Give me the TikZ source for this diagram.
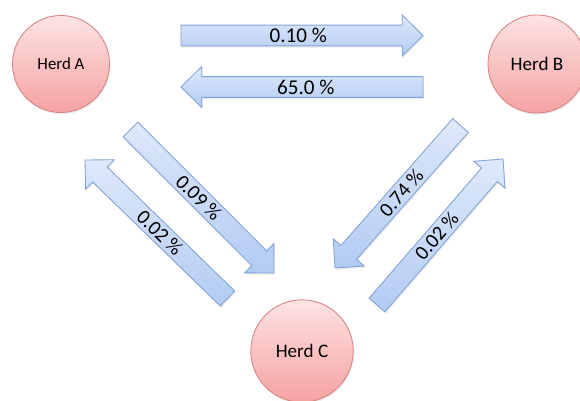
\documentclass[tikz,border=0pt]{standalone}
\usepackage{fontspec}
\setmainfont{Carlito}
\usetikzlibrary{calc,shadows}
\definecolor{arrowfillT}{HTML}{DEE9FB}
\definecolor{arrowfillB}{HTML}{B3CBF2}
\definecolor{arrowline}{HTML}{7FA2D8}
\definecolor{herdT}{HTML}{FDE3E3}
\definecolor{herdB}{HTML}{F6A2A2}
\definecolor{herdline}{HTML}{D98282}
\tikzset{
  herd/.style={circle, draw=herdline, line width=0.6pt, top color=herdT, bottom color=herdB,
    inner sep=0pt, drop shadow={opacity=0.15, shadow xshift=0.6pt, shadow yshift=-1.2pt}},
  blockarrow/.style={draw=arrowline, line width=0.6pt, top color=arrowfillT, bottom color=arrowfillB,
    line join=miter, drop shadow={opacity=0.15, shadow xshift=0.6pt, shadow yshift=-1.2pt}},
  flowlabel/.style={inner sep=0pt, text=black},
}
\newcommand{\flowarrow}[4]{%
  \coordinate (#1-base) at ($(#2)!0.52cm!(#1)$);
  \path[blockarrow] ($(#1)!0.26cm!90:(#2)$) -- ($(#1-base)!0.26cm!90:(#2)$)
    -- ($(#1-base)!0.515cm!90:(#2)$) -- (#2) -- ($(#1-base)!0.515cm!-90:(#2)$)
    -- ($(#1-base)!0.26cm!-90:(#2)$) -- ($(#1)!0.26cm!-90:(#2)$) -- cycle;
  \path (#1) -- (#1-base) node[pos=0.53, sloped, flowlabel, font=\fontsize{#4}{18}\selectfont] {#3};
}
\begin{document}
\begin{tikzpicture}[x=0.025cm, y=-0.025cm]
\useasboundingbox (0,0) rectangle (580,401);
\clip (0,0) rectangle (580,401);
\fill[white] (0,0) rectangle (580,401);
% herds
\node[herd, minimum size=2.425cm, font=\fontsize{12}{14}\selectfont] (A) at (61,64) {Herd A};
\node[herd, minimum size=2.45cm, font=\fontsize{13.6}{16}\selectfont] (B) at (537,64) {Herd B};
\node[herd, minimum size=2.56cm, font=\fontsize{13.6}{16}\selectfont] (C) at (302,351) {Herd C};
% arrow end points
\coordinate (t1) at (181,35.5); \coordinate (h1) at (423,35.5);
\coordinate (t2) at (423,87);   \coordinate (h2) at (181,87);
\coordinate (t3) at (130.5,129.5); \coordinate (h3) at (274,273);
\coordinate (t4) at (227.5,298.5); \coordinate (h4) at (85,160);
\coordinate (t5) at (460.5,125.5); \coordinate (h5) at (335,268);
\coordinate (t6) at (377,305);  \coordinate (h6) at (503,159);
\flowarrow{t1}{h1}{0.10 \%}{15}
\flowarrow{t2}{h2}{65.0 \%}{15}
\flowarrow{t3}{h3}{0.09 \%}{14.5}
\flowarrow{t4}{h4}{0.02 \%}{14.5}
\flowarrow{t5}{h5}{0.74 \%}{14.5}
\flowarrow{t6}{h6}{0.02 \%}{14.5}
\end{tikzpicture}
\end{document}
